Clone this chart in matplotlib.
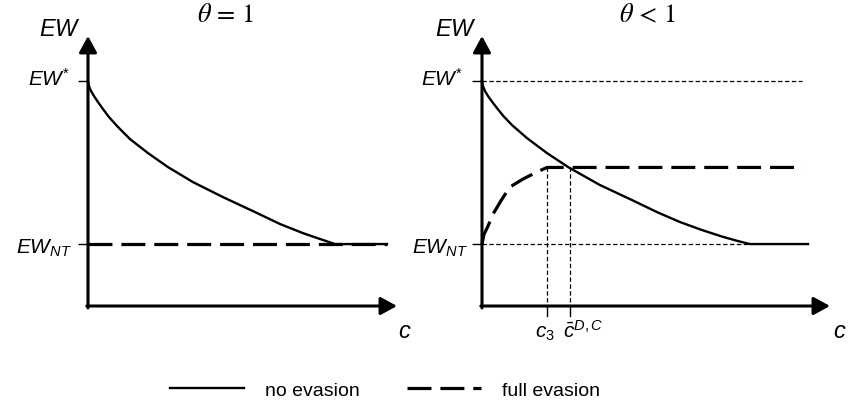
import matplotlib
matplotlib.use("Agg")
import matplotlib.pyplot as plt
from matplotlib.lines import Line2D

plt.rcParams['mathtext.fontset'] = 'custom'
plt.rcParams['mathtext.it'] = 'Liberation Sans:italic'
plt.rcParams['mathtext.rm'] = 'Liberation Sans'
plt.rcParams['mathtext.bf'] = 'Liberation Sans:bold'
plt.rcParams['font.family'] = ['Liberation Sans', 'DejaVu Sans']

# ---------------- data ----------------
EW_STAR = 1.38
EW_NT = 0.38
EW_PLATEAU = 0.85
C3 = 0.65
CBAR = 0.88

# left panel (theta = 1)
left_c_no = [0, 0.01, 0.03, 0.06, 0.10, 0.15, 0.21, 0.30, 0.42, 0.60, 0.80, 1.05,
             1.35, 1.65, 1.92, 2.15, 2.32, 2.47, 2.99]
left_ew_no = [1.38, 1.349, 1.319, 1.288, 1.251, 1.208, 1.159, 1.098, 1.024, 0.938, 0.852, 0.760,
              0.668, 0.582, 0.503, 0.447, 0.411, 0.38, 0.38]
left_c_full = [0, 2.99]
left_ew_full = [EW_NT, EW_NT]

# right panel (theta < 1)
right_c_no = [0, 0.01, 0.03, 0.06, 0.10, 0.15, 0.21, 0.30, 0.45, 0.65, 0.87, 1.18,
              1.50, 1.75, 1.98, 2.20, 2.40, 2.55, 2.68, 3.26]
right_ew_no = [1.38, 1.349, 1.319, 1.288, 1.254, 1.214, 1.168, 1.110, 1.030, 0.938, 0.849, 0.742,
               0.650, 0.576, 0.515, 0.466, 0.426, 0.400, 0.38, 0.38]
right_c_full = [0, 0.02, 0.06, 0.11, 0.20, 0.28, 0.41, 0.55, 0.65, 3.21]
right_ew_full = [0.38, 0.44, 0.49, 0.564, 0.656, 0.73, 0.779, 0.822, 0.85, 0.85]
right_star_end = 3.20
right_nt_end = 2.68

panel_titles = [r'$\theta\,=\,1$', r'$\theta\,<\,1$']
legend_labels = ['no evasion', 'full evasion']

# ---------------- figure ----------------
W, H = 848, 406
fig = plt.figure(figsize=(W / 100, H / 100), dpi=100)

PX_C = 100.0   # px per c unit
PX_E = 163.0   # px per EW unit
ylim = (-0.3, 1.75)
ax_h = (ylim[1] - ylim[0]) * PX_E / H
ax_b = (H - (307 + 0.3 * PX_E)) / H

axL = fig.add_axes([38 / W, ax_b, 3.7 * PX_C / W, ax_h])
axL.set_xlim(-0.5, 3.2)
axR = fig.add_axes([432 / W, ax_b, 4.1 * PX_C / W, ax_h])
axR.set_xlim(-0.5, 3.6)
for ax in (axL, axR):
    ax.set_ylim(*ylim)
    ax.axis('off')

AX_LW = 2.2
CURVE_LW = 1.7
DASH_LW = 2.3
DASH = (7.5, 2.8)
DOT_LW = 0.9
DOT = (3.5, 2.0)

def draw_axes(ax, xend, ytop):
    ap = dict(arrowstyle='-|>,head_length=0.55,head_width=0.3', lw=AX_LW,
              color='black', shrinkA=0, shrinkB=0, mutation_scale=18)
    ax.annotate('', xy=(0, ytop), xytext=(0, -0.012), arrowprops=ap, annotation_clip=False)
    ax.annotate('', xy=(xend, 0), xytext=(-0.012, 0), arrowprops=ap, annotation_clip=False)
    for yv in (EW_STAR, EW_NT):
        ax.plot([-0.1, 0], [yv, yv], color='black', lw=1.0, solid_capstyle='butt')

ytop = (307 - 37) / PX_E

# left panel
draw_axes(axL, 3.09, ytop)
axL.plot(left_c_full, left_ew_full, color='black', lw=DASH_LW, linestyle=(0, DASH), dash_capstyle='butt')
axL.plot(left_c_no, left_ew_no, color='black', lw=CURVE_LW, solid_joinstyle='round')

# right panel
draw_axes(axR, 3.48, ytop)
axR.plot([0, right_star_end], [EW_STAR, EW_STAR], color='black', lw=DOT_LW, linestyle=(0, DOT))
axR.plot([0, right_nt_end], [EW_NT, EW_NT], color='black', lw=DOT_LW, linestyle=(0, DOT))
for cv in (C3, CBAR):
    axR.plot([cv, cv], [EW_PLATEAU, 0], color='black', lw=DOT_LW, linestyle=(0, DOT))
    axR.plot([cv, cv], [0, -0.06], color='black', lw=1.0)
axR.plot(right_c_full, right_ew_full, color='black', lw=DASH_LW, linestyle=(0, DASH), dash_capstyle='butt')
axR.plot(right_c_no, right_ew_no, color='black', lw=CURVE_LW, solid_joinstyle='round')

# ---------------- text ----------------
big = 17
mid = 15
for ax, xl, xt, title, xstar, xnt, xc in (
        (axL, -0.28, 1.38, panel_titles[0], -0.18, -0.16, 3.17),
        (axR, -0.26, 1.66, panel_titles[1], -0.19, -0.14, 3.58)):
    ax.text(xl, 1.70, r'$EW$', fontsize=big, ha='center', va='center')
    ax.text(xt, 1.79, title, fontsize=19, ha='center', va='center', math_fontfamily='stix')
    ax.text(xstar, 1.355, r'$EW^{*}$', fontsize=mid, ha='right', va='baseline')
    ax.text(xnt, 0.33, r'$EW_{NT}$', fontsize=mid, ha='right', va='baseline')
    ax.text(xc, -0.19, r'$c$', fontsize=big, ha='center', va='baseline')

axR.text(C3 - 0.02, -0.19, r'$c_{\mathit{3}}$', fontsize=mid, ha='center', va='baseline')
axR.text(CBAR + 0.13, -0.19, r'$\bar{c}^{D,C}$', fontsize=mid, ha='center', va='baseline')

# legend
handles = [Line2D([], [], color='black', lw=CURVE_LW),
           Line2D([], [], color='black', lw=DASH_LW, linestyle=(0, DASH), dash_capstyle='butt')]
fig.legend(handles, legend_labels, loc='center', bbox_to_anchor=(385 / W, 1 - 391 / H),
           ncol=2, frameon=False, fontsize=14, handlelength=3.8, handletextpad=1.1,
           columnspacing=2.4)

fig.savefig('out.png', dpi=100)
